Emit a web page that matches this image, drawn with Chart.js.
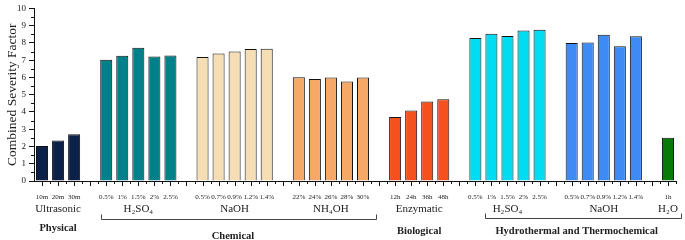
<!DOCTYPE html>
<html>
<head>
<meta charset="utf-8">
<script src="https://cdn.jsdelivr.net/npm/chart.js@4"></script>
<style>
  html, body { margin: 0; padding: 0; background: #fff; }
  #wrap { width: 685px; height: 240px; }
</style>
</head>
<body>
<div id="wrap"><canvas id="bar-chart"></canvas></div>
<script>
// tick labels under each bar ('' = empty slot between groups)
const tickLabels = [
  '10m', '20m', '30m', '',
  '0.5%', '1%', '1.5%', '2%', '2.5%', '',
  '0.5%', '0.7%', '0.9%', '1.2%', '1.4%', '',
  '22%', '24%', '26%', '28%', '30%', '',
  '12h', '24h', '36h', '48h', '',
  '0.5%', '1%', '1.5%', '2%', '2.5%', '',
  '0.5%', '0.7%', '0.9%', '1.2%', '1.4%', '',
  '1h'
];

// combined severity factor per bar
const ultrasonic = [2.03, 2.35, 2.71];
const chemH2SO4 = [7.02, 7.25, 7.72, 7.21, 7.27];
const chemNaOH = [7.19, 7.38, 7.51, 7.65, 7.66];
const chemNH4OH = [6.01, 5.91, 5.99, 5.76, 5.99];
const enzymatic = [3.71, 4.09, 4.61, 4.73];
const hydroH2SO4 = [8.29, 8.53, 8.40, 8.72, 8.77];
const hydroNaOH = [8.00, 8.02, 8.47, 7.80, 8.38];
const hydroH2O = [2.50];

const groupValues = [ultrasonic, chemH2SO4, chemNaOH, chemNH4OH, enzymatic, hydroH2SO4, hydroNaOH, hydroH2O];
const groupColors = ['#0b2149', '#00808a', '#f5deb3', '#f6a866', '#f4511e', '#00dcf2', '#3f8bf5', '#087a0a'];
const groupNames = ['Ultrasonic', 'H₂SO₄', 'NaOH', 'NH₄OH', 'Enzymatic', 'H₂SO₄', 'NaOH', 'H₂O'];

const categoryNames = ['Physical', 'Chemical', 'Biological', 'Hydrothermal and Thermochemical'];
const categoryGroups = [[0, 0], [1, 3], [4, 4], [5, 7]];

// build flat series with empty slots between groups
const values = [];
const colors = [];
const groupSpans = [];
groupValues.forEach((g, gi) => {
  const start = values.length;
  g.forEach(v => { values.push(v); colors.push(groupColors[gi]); });
  groupSpans.push([start, values.length - 1]);
  if (gi < groupValues.length - 1) { values.push(null); colors.push('#fff'); }
});

const serif = "'Liberation Serif', 'DejaVu Serif', serif";
const ink = '#222';

// draws minor ticks and all the labels below the x axis
const annotations = {
  id: 'annotations',
  afterDraw(chart) {
    const ctx = chart.ctx;
    const x = chart.scales.x;
    const y = chart.scales.y;
    const base = chart.chartArea.bottom;
    const step = x.getPixelForValue(1) - x.getPixelForValue(0);
    ctx.save();
    ctx.strokeStyle = '#111';
    ctx.lineWidth = 1;

    // x ticks: major at slots, minor between
    for (let i = 0; i < tickLabels.length; i++) {
      const px = Math.round(x.getPixelForValue(i)) + 0.5;
      ctx.beginPath(); ctx.moveTo(px, base); ctx.lineTo(px, base + 5); ctx.stroke();
      const mx = Math.round(x.getPixelForValue(i) + step / 2) + 0.5;
      ctx.beginPath(); ctx.moveTo(mx, base); ctx.lineTo(mx, base + 3); ctx.stroke();
    }
    // y minor ticks
    for (let v = 0.5; v < 10; v += 1) {
      const py = Math.round(y.getPixelForValue(v)) + 0.5;
      ctx.beginPath(); ctx.moveTo(chart.chartArea.left, py); ctx.lineTo(chart.chartArea.left - 3, py); ctx.stroke();
    }

    ctx.fillStyle = ink;
    ctx.textAlign = 'center';
    ctx.textBaseline = 'middle';

    // tick labels
    ctx.font = '7px ' + serif;
    tickLabels.forEach((t, i) => {
      if (t) ctx.fillText(t, x.getPixelForValue(i), base + 16);
    });

    // group labels
    ctx.font = '11px ' + serif;
    groupSpans.forEach((s, gi) => {
      const cx = (x.getPixelForValue(s[0]) + x.getPixelForValue(s[1])) / 2;
      ctx.fillText(groupNames[gi], cx, base + 28);
    });

    // brackets and category labels
    ctx.font = 'bold 10.5px ' + serif;
    const labelY = [228, 236, 231, 231];
    categoryGroups.forEach((cg, ci) => {
      const first = groupSpans[cg[0]][0];
      const last = groupSpans[cg[1]][1];
      const cx = (x.getPixelForValue(first) + x.getPixelForValue(last)) / 2;
      if (cg[0] !== cg[1]) {
        const x0 = Math.round(x.getPixelForValue(first) + (ci === 3 ? 10 : -5)) + 0.5;
        const x1 = Math.round(x.getPixelForValue(last) + 13) + 0.5;
        const by = (ci === 3 ? 218 : 219) + 0.5;
        ctx.strokeStyle = '#444';
        ctx.beginPath();
        ctx.moveTo(x0, by - 5); ctx.lineTo(x0, by); ctx.lineTo(x1, by); ctx.lineTo(x1, by - 5);
        ctx.stroke();
      }
      ctx.fillText(categoryNames[ci], ci === 1 ? 233 : (ci === 3 ? cx + 5 : cx), labelY[ci]);
    });
    ctx.restore();
  }
};

const chartCanvas = document.querySelector('#bar-chart');
const severityChart = new Chart(chartCanvas, {
  type: 'bar',
  data: {
    labels: tickLabels,
    datasets: [{
      data: values,
      backgroundColor: colors,
      borderColor: '#111',
      borderWidth: 1,
      barPercentage: 0.75,
      categoryPercentage: 1
    }]
  },
  options: {
    responsive: true,
    maintainAspectRatio: false,
    animation: false,
    layout: { padding: { top: 4, right: 9, left: 0, bottom: 0 } },
    plugins: { legend: { display: false }, tooltip: { enabled: false } },
    scales: {
      x: {
        offset: true,
        grid: { display: false },
        border: { display: true, color: '#111', width: 1 },
        ticks: { display: false },
        afterFit(scale) { scale.height = 59; }
      },
      y: {
        min: 0,
        max: 10,
        border: { display: true, color: '#111', width: 1 },
        grid: { drawOnChartArea: false, drawTicks: true, tickLength: 5, color: '#111' },
        ticks: { stepSize: 1, color: ink, padding: 3, font: { family: serif, size: 9 } },
        title: {
          display: true,
          text: 'Combined Severity Factor',
          color: ink,
          padding: { top: 4, bottom: 0 },
          font: { family: serif, size: 13.5 }
        },
        afterFit(scale) { scale.width = 34; }
      }
    }
  },
  plugins: [annotations]
});
</script>
</body>
</html>
